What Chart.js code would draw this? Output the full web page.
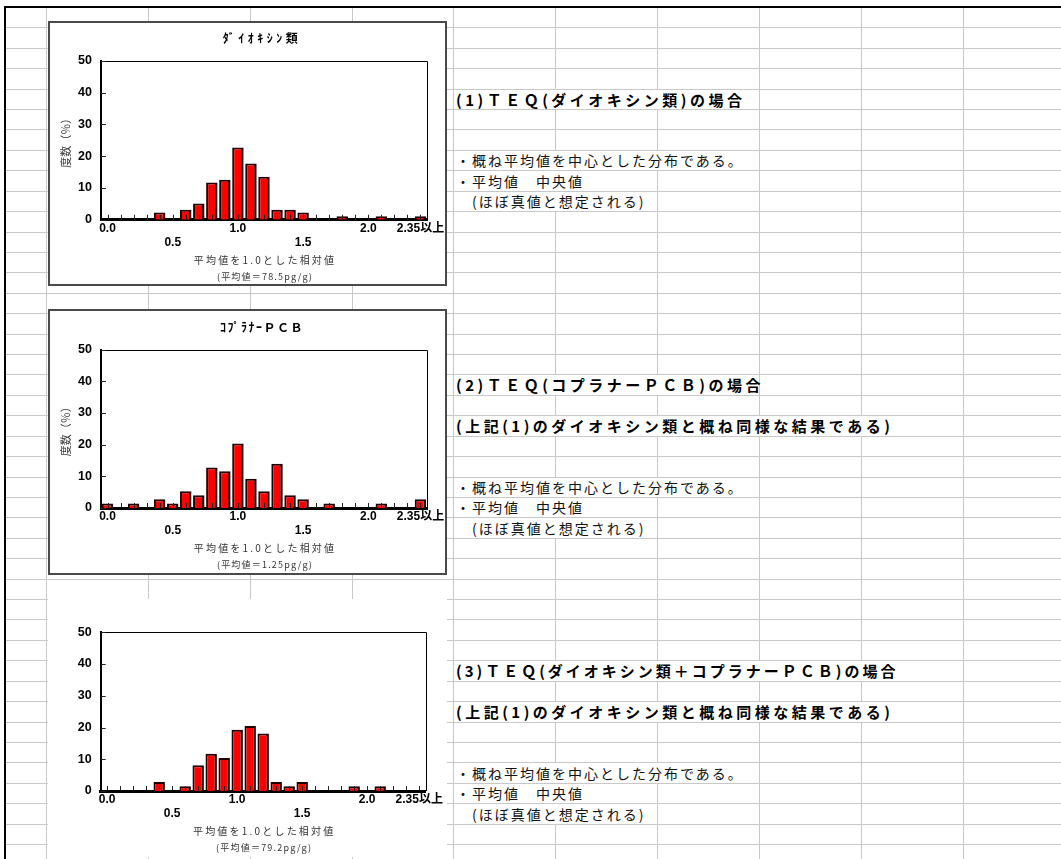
<!DOCTYPE html>
<html><head><meta charset="utf-8">
<script src="https://cdn.jsdelivr.net/npm/chart.js@4/dist/chart.umd.min.js"></script>
<style>
html,body{margin:0;padding:0;background:#fff;}
body{width:1061px;height:859px;position:relative;overflow:hidden;font-family:"Noto Sans CJK JP",sans-serif;}
.gl{position:absolute;background:#c8c8c8;}
.bd{position:absolute;background:#000;}
.box{position:absolute;background:#fff;box-sizing:border-box;}
.framed{border:2px solid #4a4a4a;}
.txt{position:absolute;background:#fff;white-space:nowrap;color:#111;box-sizing:border-box;padding-left:2px;}
.h{font-weight:bold;font-size:15px;letter-spacing:3.5px;color:#000;}
.n{font-size:14px;letter-spacing:2px;}
canvas{position:absolute;}
</style></head><body>
<div id="sheet"></div>
<div class="box framed" style="left:48px;top:21px;width:399px;height:265px;"></div>
<div class="box framed" style="left:48px;top:309px;width:399px;height:266px;"></div>
<div class="box" style="left:48px;top:599px;width:399px;height:258px;"></div>
<canvas id="c1" width="395" height="261" style="left:50px;top:23px;"></canvas>
<canvas id="c2" width="395" height="262" style="left:50px;top:311px;"></canvas>
<canvas id="c3" width="395" height="256" style="left:50px;top:601px;"></canvas>
<script>
// ---- data ----
const categories = ['0.0','0.1','0.2','0.3','0.4','0.5','0.6','0.7','0.8','0.9','1.0','1.1','1.2','1.3','1.4','1.5','1.6','1.7','1.8','1.9','2.0','2.1','2.2','2.3','2.35以上'];
const tickLabelsUpper = ['0.0','1.0','2.0','2.35以上'];
const tickLabelsLower = ['0.5','1.5'];
const yTickStep = 10;
const yMax = 50;
const dioxinValues = [0,0,0,0,2.3,0,3.1,5.1,11.7,12.6,22.7,17.7,13.5,3.1,3.1,2.3,0,0,1.1,0,0,1.1,0,0,1.1];
const pcbValues    = [1.4,0,1.4,0,2.8,1.4,5.3,4.0,12.8,11.6,20.4,9.2,5.3,14.0,4.0,2.8,0,1.4,0,0,0,1.4,0,0,2.8];
const totalValues  = [0,0,0,0,2.8,0,1.5,8.1,11.7,10.4,19.3,20.5,18.1,2.8,1.5,2.8,0,0,0,1.5,0,1.5,0,0,0];
const chartTitles = ['ﾀﾞｲｵｷｼﾝ類','ｺﾌﾟﾗﾅｰＰＣＢ',''];
const yAxisTitle = '度数（％）';
const xAxisTitle = '平均値を1.0とした相対値';
const meanLabels = ['(平均値＝78.5pg/g)','(平均値＝1.25pg/g)','(平均値＝79.2pg/g)'];

// ---- spreadsheet background ----
const sheet = document.getElementById('sheet');
function el(cls, l, t, w, h) {
  const d = document.createElement('div');
  d.className = cls;
  d.style.cssText = `left:${l}px;top:${t}px;width:${w}px;height:${h}px;`;
  sheet.appendChild(d); return d;
}
const colX = [46,148,250,352,453,555,657,759,861,963];
const rowY = k => Math.round(27.3 + 20.42 * k);
for (let k = 0; rowY(k) < 859; k++) el('gl', 6, rowY(k), 1055, 1);
colX.forEach(x => el('gl', x, 8, 1, 851));
el('bd', 4, 6, 1057, 2);
el('bd', 4, 6, 2, 853);

const notes = [
  [3, 'h', '(1)ＴＥＱ(ダイオキシン類)の場合', 759],
  [6, 'n', '・概ね平均値を中心とした分布である。', 759],
  [7, 'n', '・平均値　中央値', 657],
  [8, 'n', '　(ほぼ真値と想定される)', 657],
  [17, 'h', '(2)ＴＥＱ(コプラナーＰＣＢ)の場合', 759],
  [19, 'h', '(上記(1)のダイオキシン類と概ね同様な結果である)', 963],
  [22, 'n', '・概ね平均値を中心とした分布である。', 759],
  [23, 'n', '・平均値　中央値', 657],
  [24, 'n', '　(ほぼ真値と想定される)', 657],
  [31, 'h', '(3)ＴＥＱ(ダイオキシン類＋コプラナーＰＣＢ)の場合', 963],
  [33, 'h', '(上記(1)のダイオキシン類と概ね同様な結果である)', 963],
  [36, 'n', '・概ね平均値を中心とした分布である。', 759],
  [37, 'n', '・平均値　中央値', 657],
  [38, 'n', '　(ほぼ真値と想定される)', 657]
];
notes.forEach(([r, cls, text, endX]) => {
  const top = rowY(r) + 1, h = rowY(r + 1) - top;
  const d = el('txt ' + cls, 454, top, endX - 454, h);
  d.style.lineHeight = h + 'px';
  if (r === 31) d.style.letterSpacing = '3px';
  d.textContent = text;
});

// ---- charts ----
const tickFont = {family: '"Liberation Sans","Noto Sans CJK JP",sans-serif', weight: 'bold', size: 12, lineHeight: 1.17};
const yFont = {family: '"Liberation Sans",sans-serif', weight: 'bold', size: 12.5};

function makeChart(id, values, cfg) {
  const decor = {
    id: 'decor' + id,
    afterDatasetsDraw(chart) {
      const {ctx, chartArea: a, scales: {x, y}} = chart;
      ctx.save();
      ctx.strokeStyle = '#000'; ctx.lineWidth = 1;
      ctx.beginPath();
      ctx.moveTo(a.left, Math.round(a.top) + 0.5);
      ctx.lineTo(Math.round(a.right) + 0.5, Math.round(a.top) + 0.5);
      ctx.lineTo(Math.round(a.right) + 0.5, a.bottom);
      ctx.stroke();
      ctx.strokeStyle = '#222';
      ctx.beginPath();
      x.ticks.forEach((t, i) => {
        const px = Math.round(x.getPixelForTick(i)) + 0.5;
        ctx.moveTo(px, a.bottom); ctx.lineTo(px, a.bottom - 5);
      });
      y.ticks.forEach(t => {
        const py = Math.round(y.getPixelForValue(t.value)) + 0.5;
        ctx.moveTo(a.left, py); ctx.lineTo(a.left + 5, py);
      });
      ctx.stroke();
      ctx.restore();
    },
    afterDraw(chart) {
      const {ctx, chartArea: a} = chart;
      const cx = (a.left + a.right) / 2;
      ctx.save();
      ctx.textAlign = 'center'; ctx.textBaseline = 'middle';
      if (cfg.title) {
        ctx.font = 'bold 12px "Noto Sans CJK JP"';
        ctx.letterSpacing = cfg.titleSpacing + 'px';
        ctx.fillStyle = '#000';
        ctx.fillText(cfg.title, cx - 2, a.top - 22);
      }
      ctx.fillStyle = '#333';
      ctx.font = '10px "Noto Sans CJK JP"';
      ctx.letterSpacing = '2.2px';
      ctx.fillText(xAxisTitle, cx + 1, a.bottom + 40.5);
      ctx.font = '9px "Noto Sans CJK JP"';
      ctx.letterSpacing = '1.2px';
      ctx.fillText(cfg.mean, cx + 1, a.bottom + 56.5);
      ctx.restore();
    }
  };
  return new Chart(document.getElementById(id), {
    type: 'bar',
    data: {
      labels: categories,
      datasets: [{
        data: values,
        backgroundColor: '#ff0000',
        borderColor: '#200000',
        borderWidth: {top: 2, left: 2, right: 2.5, bottom: 0},
        borderSkipped: 'start',
        barPercentage: 0.88,
        categoryPercentage: 1
      }]
    },
    options: {
      responsive: false, animation: false, devicePixelRatio: 1,
      layout: {padding: {left: 0, right: cfg.padRight, top: cfg.padTop, bottom: 0}},
      plugins: {legend: {display: false}, tooltip: {enabled: false}, title: {display: false}},
      scales: {
        x: {
          grid: {display: false, drawTicks: false},
          border: {display: true, color: '#000', width: 3},
          ticks: {
            autoSkip: false, maxRotation: 0, minRotation: 0, padding: 2,
            font: tickFont, color: '#000',
            callback: (v, i) => {
              const lab = categories[i];
              if (tickLabelsLower.includes(lab)) return ['', lab];
              if (tickLabelsUpper.includes(lab)) return lab;
              return '';
            }
          },
          afterFit: s => { s.height = cfg.xHeight; s.paddingLeft = 0; s.paddingRight = 0; }
        },
        y: {
          min: 0, max: yMax,
          grid: {display: false, drawTicks: false},
          border: {display: true, color: '#000', width: 2},
          ticks: {stepSize: yTickStep, padding: 9, font: yFont, color: '#000'},
          title: {display: cfg.yTitle, text: yAxisTitle, color: '#333',
                  font: {family: '"Noto Sans CJK JP"', size: 11}, padding: {top: 9, bottom: 0}},
          afterFit: s => { s.width = cfg.yWidth; s.paddingTop = 0; s.paddingBottom = 0; }
        }
      }
    },
    plugins: [decor]
  });
}

makeChart('c1', dioxinValues, {title: chartTitles[0], titleSpacing: 3.5, mean: meanLabels[0], padTop: 37.7, padRight: 18, xHeight: 64.3, yWidth: 51, yTitle: true});
makeChart('c2', pcbValues, {title: chartTitles[1], titleSpacing: 1.5, mean: meanLabels[1], padTop: 38.7, padRight: 18, xHeight: 65, yWidth: 51, yTitle: true});
makeChart('c3', totalValues, {title: chartTitles[2], titleSpacing: 0, mean: meanLabels[2], padTop: 31.3, padRight: 19.3, xHeight: 66, yWidth: 50.7, yTitle: false});
</script>
</body></html>
